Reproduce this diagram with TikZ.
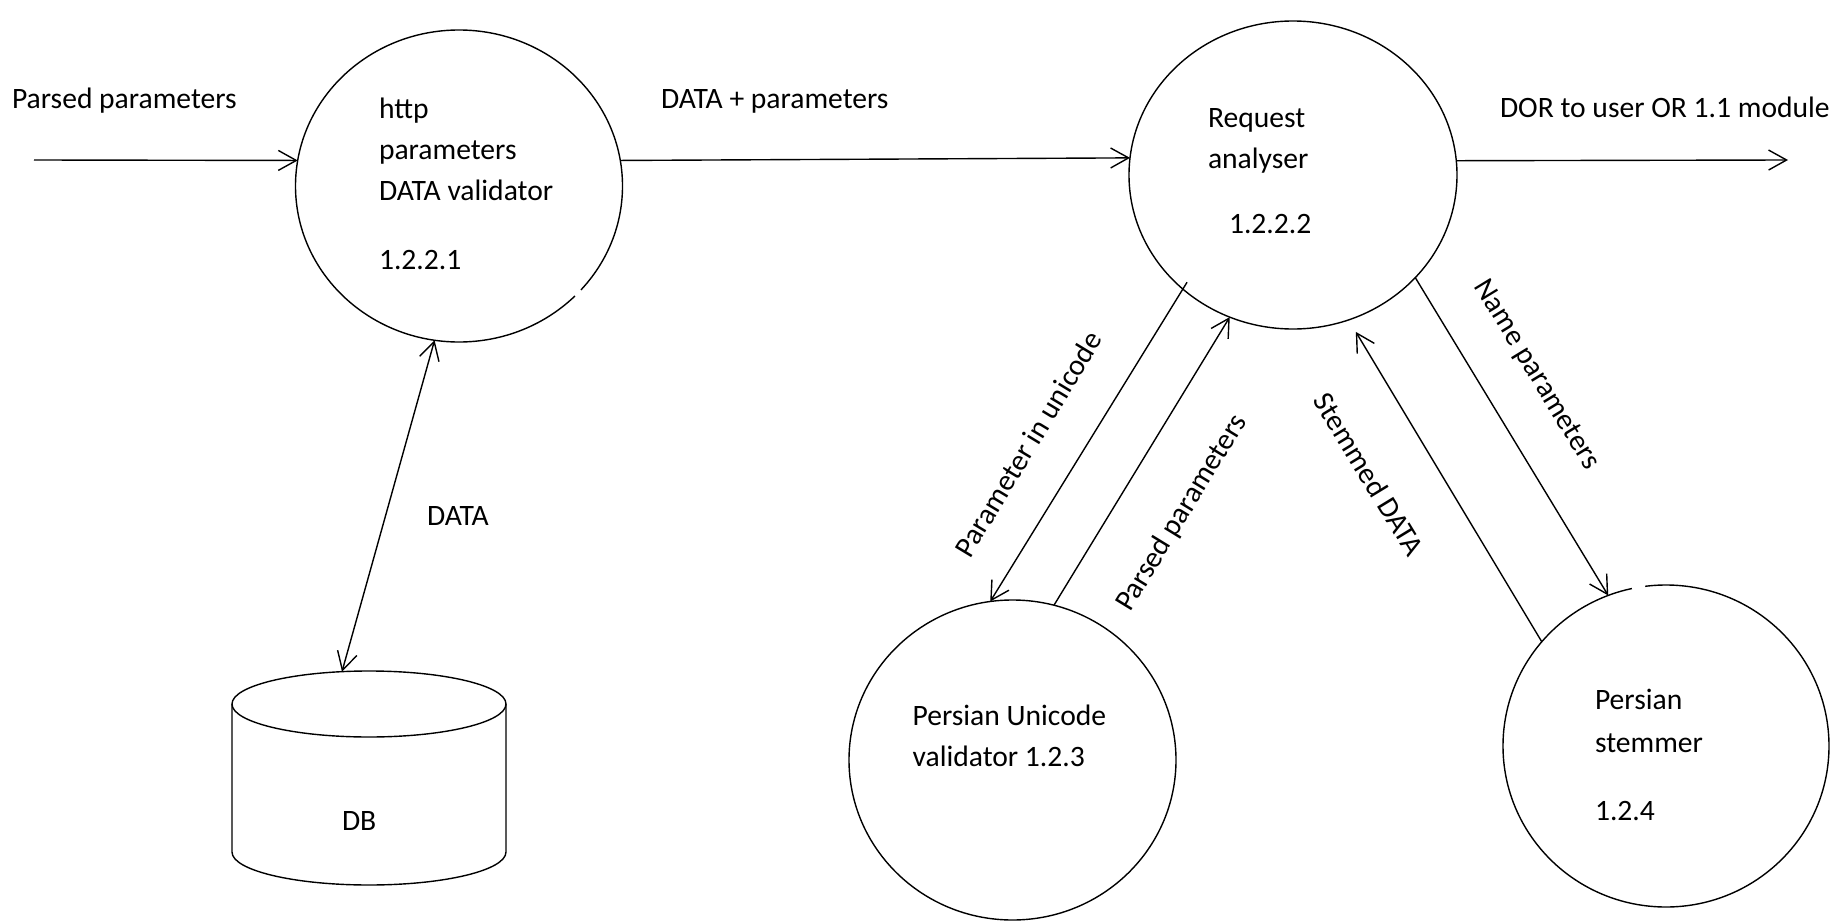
\documentclass[tikz,border=0pt]{standalone}
\usepackage{fontspec}
\setmainfont{Carlito}
\usetikzlibrary{shapes.geometric,arrows.meta}
\begin{document}
\begin{tikzpicture}[x=0.5pt,y=-0.5pt,
  every node/.style={inner sep=0pt, outer sep=0pt, font=\fontsize{14.8pt}{20.5pt}\selectfont},
  proc/.style={ellipse, draw, line width=0.7pt},
  tip/.style={Straight Barb[length=9pt,width=10pt,line width=0.7pt]},
  flow/.style={line width=0.7pt, -{Straight Barb[length=9pt,width=10pt,line width=0.7pt]}},
  biflow/.style={line width=0.7pt, {Straight Barb[length=9pt,width=10pt,line width=0.7pt]}-{Straight Barb[length=9pt,width=10pt,line width=0.7pt]}},
  txt/.style={anchor=north west, align=left},
  lbl/.style={anchor=west}
]
\useasboundingbox (0,0) rectangle (1844,921);

% processes
\node[proc, minimum width=163.5pt, minimum height=156pt] (c1) at (459,186) {};
\node[proc, minimum width=164pt, minimum height=154pt] (c2) at (1293,175) {};
\node[proc, minimum width=163.5pt, minimum height=160pt] (c3) at (1012.5,760) {};
\node[proc, minimum width=163pt, minimum height=161pt] (c4) at (1666,746) {};

% breaks in two outlines
\draw[white, line width=2pt] (c1.center) ++(-41.8:81.75pt and 78pt) arc[start angle=-41.8, end angle=-44.8, x radius=81.75pt, y radius=78pt];
\draw[white, line width=2pt] (c4.center) ++(97.4:81.5pt and 80.5pt) arc[start angle=97.4, end angle=102, x radius=81.5pt, y radius=80.5pt];

% process texts
\node[txt] (t1) at (379,98) {http\\parameters\\DATA validator\\[14pt]1.2.2.1};
\node[txt] (t2) at (1208,109) {Request\\analyser\\[11.6pt]\hspace*{10.5pt}1.2.2.2};
\node[txt] (t3) at (912.6,704.5) {Persian Unicode\\validator 1.2.3};
\node[txt, font=\fontsize{14.8pt}{21.7pt}\selectfont] (t4) at (1595,689) {Persian\\stemmer\\[12pt]1.2.4};

% data store
\draw[line width=0.7pt] (232,704) -- (232,852) arc[start angle=180, end angle=360, x radius=68.5pt, y radius=16.5pt] -- (506,704);
\draw[line width=0.7pt] (369,704) ellipse [x radius=68.5pt, y radius=16.5pt];
\coordinate (dbtop) at (342,671.6);
\node[lbl] (db) at (342,821) {DB};

% external ends
\coordinate (inA) at (34,160);
\coordinate (outB) at (1788,160);

% flows
\draw[flow] (inA) -- (c1.171);
\node[lbl] (l1) at (12,101) {Parsed parameters};

\draw[flow] (c1.9) -- (c2.174);
\node[lbl] (l2) at (661,101) {DATA + parameters};

\draw[flow] (c2.5) -- (outB);
\node[lbl] (l3) at (1500,107) {DOR to user OR 1.1 module};

\draw[biflow] (c1.261) -- (dbtop);
\node[lbl] (l4) at (427,516) {DATA};

\draw[flow, shorten <=-4pt] (c2.226) -- (c3.98);
\node[rotate=58.8] (l5) at (1028,444) {Parameter in unicode};

\draw[flow] (c3.75) -- (c2.246);
\node[rotate=58.5] (l6) at (1182,513) {Parsed parameters};

\draw[flow, shorten >=7pt] (c4.140) -- (c2.291);
\node[rotate=-58.6] (l7) at (1369,474) {Stemmed DATA};

\draw[flow] (c2.320) -- (c4.111);
\node[rotate=-58.6] (l8) at (1536,375) {Name parameters};
\end{tikzpicture}
\end{document}
